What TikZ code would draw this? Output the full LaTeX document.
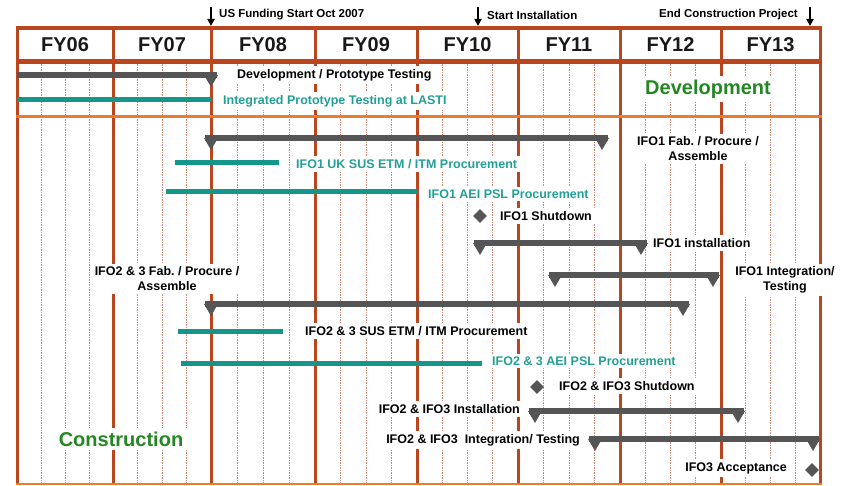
\documentclass[tikz,border=0pt]{standalone}
\usepackage{fontspec}
\setmainfont{Liberation Sans}
\usetikzlibrary{arrows.meta,shapes.geometric}
\definecolor{yr}{RGB}{185,70,30}
\definecolor{sepc}{RGB}{232,125,50}
\definecolor{grd}{RGB}{205,140,115}
\definecolor{bargray}{RGB}{85,85,85}
\definecolor{tealbar}{RGB}{20,150,138}
\definecolor{tealtxt}{RGB}{35,160,150}
\definecolor{grn}{RGB}{35,135,35}
\newcommand\gtri[2]{\fill[bargray] (#1-7,#2) -- (#1+7,#2) -- (#1,#2+12) -- cycle;}
\newcommand\gbar[3]{\draw[bargray,line width=6pt] (#2-6,#1) -- (#3+6,#1); \gtri{#2}{#1}\gtri{#3}{#1}}
\newcommand\tbar[3]{\draw[tealbar,line width=5pt] (#2,#1) -- (#3,#1);}
\frenchspacing
\begin{document}
\begin{tikzpicture}[x=1pt,y=-1pt,
  lbl/.style={fill=white,inner xsep=5pt,inner ysep=3pt,font=\fontsize{12.5}{15}\selectfont\bfseries,text=black},
  biglbl/.style={fill=white,inner xsep=6pt,inner ysep=4pt,font=\fontsize{20}{22}\selectfont\bfseries,text=grn},
  fylbl/.style={font=\fontsize{20}{22}\selectfont\bfseries,text=black!90},
  toplbl/.style={inner sep=0pt,font=\fontsize{11.5}{13}\selectfont\bfseries},
  milestone/.style={-{Triangle[width=7pt,length=7pt]},line width=1.8pt,black},
  gridl/.style={grd,line width=0.7pt,dash pattern=on 1.5pt off 1pt},
  yrl/.style={yr,line width=3pt},
  dia/.style={diamond,fill=bargray,minimum width=14pt,minimum height=14pt,inner sep=0pt}]
\useasboundingbox (0,0) rectangle (844,486);
\fill[white] (0,0) rectangle (844,486);
% quarter grid
\foreach \a/\b in {17/113,113/211,211/315,315/417,417/518,518/620,620/721,721/820}{
  \foreach \k in {1,2,3}{
    \draw[gridl] ({\a+(\b-\a)*\k/4},62) -- ({\a+(\b-\a)*\k/4},484);
  }
}
% year lines and frame
\foreach \x in {17,113,211,315,417,518,620,721,820}{
  \draw[yrl] (\x,28) -- (\x,484);
}
% labels with white boxes
\node[lbl,anchor=west] (devtxt) at (232,75) {Development / Prototype Testing};
\node[lbl,anchor=west,text=tealtxt] (lasti) at (218,101) {Integrated Prototype Testing at LASTI};
\node[biglbl] (dev) at (708,89) {Development};
\node[lbl,align=center] (ifo1fab) at (698,149) {IFO1 Fab. / Procure /\\Assemble};
\node[lbl,anchor=west,text=tealtxt] (uk) at (291,164) {IFO1 UK SUS ETM / ITM Procurement};
\node[lbl,anchor=west,text=tealtxt] (aei1) at (423,194) {IFO1 AEI PSL Procurement};
\node[lbl,anchor=west] (sd1) at (495,216) {IFO1 Shutdown};
\node[lbl,anchor=west] (inst1) at (648,243) {IFO1 installation};
\node[lbl,align=center] (int1) at (785,280) {IFO1 Integration/\\Testing};
\node[lbl,align=center] (fab23) at (167,279) {IFO2 \& 3 Fab. / Procure /\\Assemble};
\node[lbl,anchor=west] (sus23) at (300,331) {IFO2 \& 3 SUS ETM / ITM Procurement};
\node[lbl,anchor=west,text=tealtxt] (aei23) at (487,361) {IFO2 \& 3 AEI PSL Procurement};
\node[lbl,anchor=west] (sd23) at (554,386) {IFO2 \& IFO3 Shutdown};
\node[lbl,anchor=east] (inst23) at (525,409) {IFO2 \& IFO3 Installation};
\node[lbl,anchor=east] (int23) at (585,440) {IFO2 \& IFO3~ Integration/ Testing};
\node[lbl,anchor=east] (acc) at (792,468) {IFO3 Acceptance};
\node[biglbl] (con) at (121,439) {Construction};
% horizontal frame lines
\draw[yr,line width=3.5pt] (15.5,28) -- (821.5,28);
\draw[yr,line width=5pt] (15.5,62) -- (821.5,62);
\draw[sepc,line width=3pt] (15.5,117) -- (821.5,117);
\draw[sepc,line width=2pt] (15.5,484) -- (821.5,484);
% header
\foreach \c/\t in {65/FY06,162/FY07,263/FY08,366/FY09,467.5/FY10,569/FY11,670.5/FY12,770.5/FY13}{
  \node[fylbl] (h\t) at (\c,45) {\t};
}
% top milestones
\coordinate (m1a) at (211,7); \coordinate (m1b) at (211,26);
\draw[milestone] (m1a) -- (m1b);
\node[toplbl,anchor=west] (m1) at (219,15) {US Funding Start Oct 2007};
\coordinate (m2a) at (478,7); \coordinate (m2b) at (478,26);
\draw[milestone] (m2a) -- (m2b);
\node[toplbl,anchor=west] (m2) at (487,15) {Start Installation};
\coordinate (m3a) at (810,7); \coordinate (m3b) at (810,26);
\draw[milestone] (m3a) -- (m3b);
\node[toplbl,anchor=east] (m3) at (798,15) {End Construction Project};
% development bars
\draw[bargray,line width=6pt] (17,75) -- (217,75); \gtri{211}{75}
\tbar{100}{17}{211}
% construction bars
\gbar{138}{211}{602}
\tbar{163}{175}{279}
\tbar{192}{166}{417}
\node[dia] (d1) at (480,216) {};
\gbar{243}{480}{641}
\gbar{275}{555}{713}
\gbar{304}{211}{683}
\tbar{332}{178}{283}
\tbar{364}{181}{482}
\node[dia] (d2) at (537,387) {};
\gbar{411}{535}{738}
\gbar{439}{595}{813}
\node[dia] (d3) at (812,470) {};
\end{tikzpicture}
\end{document}
